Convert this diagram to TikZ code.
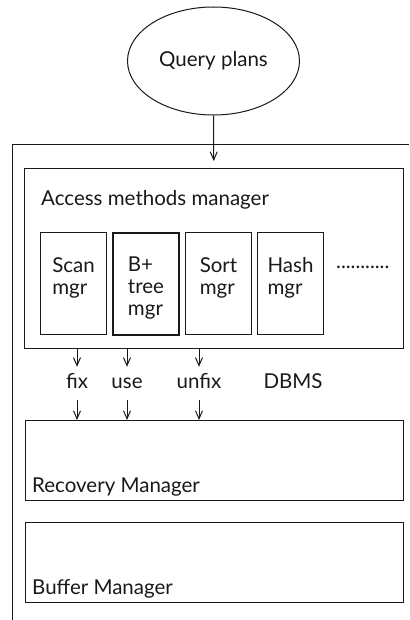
\documentclass[tikz,border=0pt]{standalone}
\usepackage{fontspec}
\setmainfont{Lato}
\usetikzlibrary{shapes.geometric,arrows.meta,positioning}

\begin{document}
\begin{tikzpicture}[x=1pt,y=-1pt,font=\fontsize{20.5}{22}\selectfont,color=black!90]
  \tikzstyle{plan} = [ellipse, draw, line width=1pt, minimum width=172pt, minimum height=108pt]
  \tikzstyle{layer} = [rectangle, draw, line width=1pt, minimum width=378pt, minimum height=80pt, anchor=north west]
  \tikzstyle{mgrbox} = [rectangle, draw, line width=1pt, minimum width=66pt, minimum height=102pt, anchor=north west]
  \tikzstyle{mgrtext} = [align=left, inner sep=0pt, anchor=north]
  \tikzstyle{call} = [anchor=base, inner sep=0pt, text height=21pt, text depth=12pt]
  \tikzstyle{line} = [draw, -{Straight Barb[length=8pt,width=7pt]}, line width=1pt]
  \useasboundingbox (0,0) rectangle (409,620);

  % Query plans and the DBMS frame
  \node[plan] (query) at (213.5,61) {Query plans};
  \draw[line width=1pt] (12,620) -- (12,145) -- (409,145);
  \node[anchor=base, inner sep=0pt] (dbms) at (293,388) {DBMS};

  % Access methods manager
  \node[rectangle, draw, line width=1pt, minimum width=379pt, minimum height=180pt, anchor=north west] (acc) at (24,168) {};
  \node[anchor=base west, inner sep=0pt] (acctext) at (41,206) {Access methods manager};
  \node[mgrbox] (scan) at (40,232) {};
  \node[mgrbox, line width=2pt] (btree) at (112,232) {};
  \node[mgrbox] (sort) at (185,232) {};
  \node[mgrbox] (hash) at (257,232) {};
  \node[mgrtext, below=25pt of scan.north] (scantext) {Scan\\mgr};
  \node[mgrtext, below=25pt of btree.north] (btreetext) {B+\\tree\\mgr};
  \node[mgrtext, below=25pt of sort.north] (sorttext) {Sort\\mgr};
  \node[mgrtext, below=25pt of hash.north] (hashtext) {Hash\\mgr};
  \node[anchor=base west, inner sep=0pt] (dots) at (336,268) {...........};

  % Recovery and buffer managers
  \node[layer] (rec) at (25,420) {};
  \node[anchor=base west, inner sep=0pt] (rectext) at ([shift={(7,-9)}]rec.south west) {Recovery Manager};
  \node[layer] (buf) at (25,522) {};
  \node[anchor=base west, inner sep=0pt] (buftext) at ([shift={(7,-9)}]buf.south west) {Buffer Manager};

  % calls
  \node[call] (fix) at (77,388) {fix};
  \node[call] (use) at (127,388) {use};
  \node[call] (unfix) at (199,388) {unfix};

  \draw[line, shorten >=7pt] (query) -- (acc);
  \foreach \c in {fix,use,unfix} {
    \draw[line] (acc.south -| \c) -- (\c);
    \draw[line] (\c) -- (\c |- rec.north);
  }
\end{tikzpicture}
\end{document}
